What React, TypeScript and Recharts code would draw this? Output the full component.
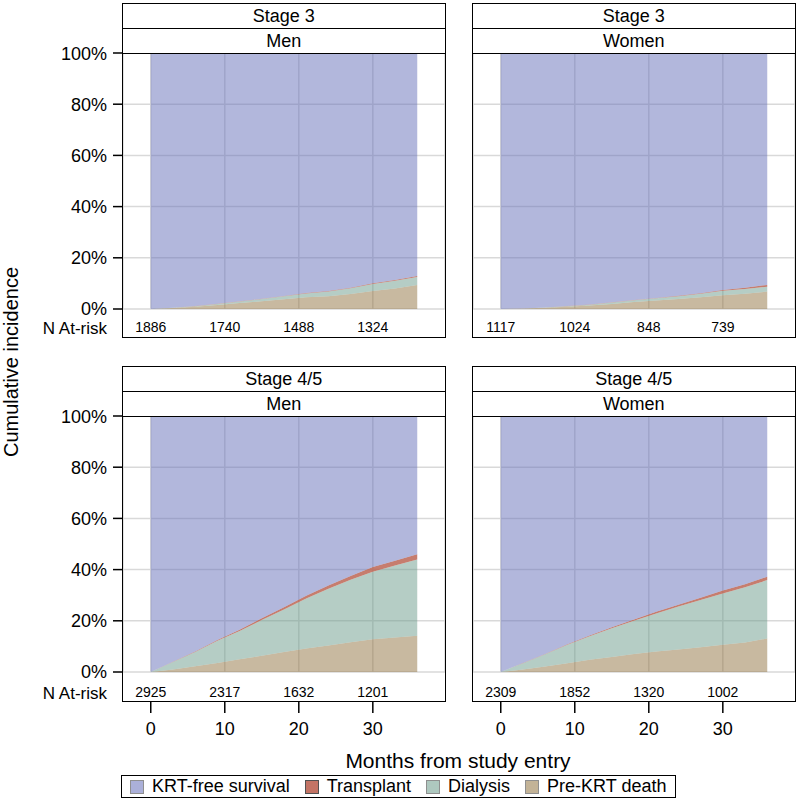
import { Area, AreaChart, CartesianGrid, XAxis, YAxis } from "recharts";

// months since study entry at which the curves were read
const months = [0, 3, 6, 9, 12, 15, 18, 21, 24, 27, 30, 33, 36];

// cumulative incidence (%) per competing event
const s3MenDeath = [0, 0.4, 0.9, 1.6, 2.3, 3.0, 3.8, 4.6, 5.0, 5.9, 7.0, 8.0, 9.4];
const s3MenDialysis = [0, 0.1, 0.2, 0.4, 0.6, 0.9, 1.2, 1.5, 1.8, 2.2, 2.8, 3.0, 3.1];
const s3MenTransplant = [0, 0, 0.05, 0.05, 0.1, 0.1, 0.1, 0.15, 0.2, 0.2, 0.3, 0.35, 0.4];

const s3WomenDeath = [0, 0.2, 0.5, 0.9, 1.4, 2.0, 2.7, 3.3, 3.9, 4.6, 5.4, 6.0, 6.8];
const s3WomenDialysis = [0, 0, 0.1, 0.2, 0.3, 0.5, 0.7, 0.9, 1.1, 1.4, 1.7, 1.8, 1.9];
const s3WomenTransplant = [0, 0, 0, 0.05, 0.05, 0.1, 0.1, 0.1, 0.15, 0.2, 0.3, 0.5, 0.7];

const s45MenDeath = [0, 1.0, 2.2, 3.5, 5.0, 6.3, 7.8, 9.2, 10.4, 11.6, 12.8, 13.5, 14.2];
const s45MenDialysis = [0, 2.95, 5.6, 8.7, 11.0, 14.0, 16.6, 19.5, 22.1, 24.4, 26.4, 28.1, 29.7];
const s45MenTransplant = [0, 0.05, 0.2, 0.3, 0.5, 0.7, 0.9, 1.1, 1.3, 1.5, 1.8, 1.9, 2.1];

const s45WomenDeath = [0, 1.0, 2.1, 3.4, 4.8, 5.9, 7.0, 8.0, 8.8, 9.7, 10.6, 11.5, 13.1];
const s45WomenDialysis = [0, 2.45, 4.8, 7.2, 9.2, 11.2, 13.0, 14.9, 16.8, 18.4, 20.1, 21.6, 22.8];
const s45WomenTransplant = [0, 0.05, 0.1, 0.2, 0.3, 0.4, 0.5, 0.6, 0.7, 0.9, 1.1, 1.2, 1.3];

// number at risk table
const riskMonths = [0, 10, 20, 30];
const s3MenAtRisk = [1886, 1740, 1488, 1324];
const s3WomenAtRisk = [1117, 1024, 848, 739];
const s45MenAtRisk = [2925, 2317, 1632, 1201];
const s45WomenAtRisk = [2309, 1852, 1320, 1002];

const yTicks = [0, 20, 40, 60, 80, 100];
const xDomain = [-3.75, 39.75];

const series = [
  { key: "death", name: "Pre-KRT death", color: "#927442", opacity: 0.5 },
  { key: "dialysis", name: "Dialysis", color: "#6b9b8b", opacity: 0.5 },
  { key: "transplant", name: "Transplant", color: "#b85c4a", opacity: 0.8 },
  { key: "free", name: "KRT-free survival", color: "#6670b9", opacity: 0.5 },
];
const legendOrder = ["free", "transplant", "dialysis", "death"];

const FONT = "'Liberation Sans', Arial, sans-serif";
const PLOT_W = 322;
const PLOT_H = 256;
const border = "1.5px solid #000";

function buildRows(death: number[], dialysis: number[], transplant: number[]) {
  return months.map((m, i) => ({
    month: m,
    death: death[i],
    dialysis: dialysis[i],
    transplant: transplant[i],
    free: 100 - death[i] - dialysis[i] - transplant[i],
  }));
}

// at-risk count under the plot, plus month tick + label on the bottom row
function RiskTick({ x, y, payload, atRisk, bottom }: any) {
  const i = riskMonths.indexOf(payload.value);
  return (
    <g>
      <text
        x={x}
        y={y + (bottom ? 20 : 18)}
        textAnchor="middle"
        dominantBaseline="central"
        fontSize={14}
        fill="#000"
      >
        {atRisk[i]}
      </text>
      {bottom && (
        <>
          <line x1={x} x2={x} y1={y + 30} y2={y + 41} stroke="#000" strokeWidth={1.5} />
          <text
            x={x}
            y={y + 57}
            textAnchor="middle"
            dominantBaseline="central"
            fontSize={18}
            fill="#000"
          >
            {payload.value}
          </text>
        </>
      )}
    </g>
  );
}

type PanelProps = {
  stage: string;
  sex: string;
  rows: ReturnType<typeof buildRows>;
  atRisk: number[];
  left: number; // x of plot left edge
  top: number; // y of 100% line
  first: boolean;
  bottom: boolean;
};

function Panel({ stage, sex, rows, atRisk, left, top, first, bottom }: PanelProps) {
  const mTop = 10;
  const riskH = bottom ? 30 : 29;
  const axisH = bottom ? 75 : riskH;
  const chartLeft = first ? 0 : left - 123;
  const height = mTop + PLOT_H + axisH + 1;
  const strip = {
    position: "absolute" as const,
    left: left - 1,
    width: PLOT_W + 1.5,
    height: 25.5,
    border,
    boxSizing: "border-box" as const,
    background: "#fff",
    display: "flex",
    alignItems: "center",
    justifyContent: "center",
    fontSize: 18,
    lineHeight: 1,
  };
  return (
    <>
      <div style={{ position: "absolute", left: chartLeft, top: top - mTop }}>
        <AreaChart
          width={123 + PLOT_W + 5}
          height={height}
          data={rows}
          margin={{ top: mTop, right: 5, bottom: 1, left: first ? 0 : 123 }}
        >
          <CartesianGrid stroke="#d9d9d9" strokeWidth={1.5} />
          <XAxis
            dataKey="month"
            type="number"
            domain={xDomain}
            ticks={riskMonths}
            height={axisH}
            axisLine={false}
            tickLine={false}
            tickSize={0}
            tickMargin={0}
            interval={0}
            tick={(p: any) => <RiskTick {...p} atRisk={atRisk} bottom={bottom} />}
          />
          <YAxis
            domain={[0, 100]}
            ticks={yTicks}
            hide={!first}
            width={123}
            axisLine={false}
            tickSize={10}
            tickMargin={6}
            tickLine={{ stroke: "#000", strokeWidth: 1.5 }}
            tick={{ fill: "#000", fontSize: 18 }}
            tickFormatter={(v: number) => `${v}%`}
          />
          {series.map((s) => (
            <Area
              key={s.key}
              dataKey={s.key}
              name={s.name}
              stackId="cif"
              type="linear"
              stroke="none"
              fill={s.color}
              fillOpacity={s.opacity}
              isAnimationActive={false}
              dot={false}
              activeDot={false}
            />
          ))}
        </AreaChart>
      </div>
      <div style={{ ...strip, top: top - 50 }}>{stage}</div>
      <div style={{ ...strip, top: top - 25 }}>{sex}</div>
      <div
        style={{
          position: "absolute",
          left: left - 1,
          top: top - 0.5,
          width: PLOT_W + 1.5,
          height: PLOT_H + riskH,
          border,
          boxSizing: "border-box",
          pointerEvents: "none",
        }}
      />
      {first && (
        <div
          style={{
            position: "absolute",
            right: 797 - 107,
            top: top + PLOT_H + (bottom ? 21 : 19),
            transform: "translateY(-50%)",
            fontSize: 17,
            lineHeight: 1,
            whiteSpace: "nowrap",
          }}
        >
          N At-risk
        </div>
      )}
    </>
  );
}

export default function App() {
  const byKey = Object.fromEntries(series.map((s) => [s.key, s]));
  return (
    <div
      style={{
        position: "absolute",
        left: 0,
        top: 0,
        width: 797,
        height: 801,
        background: "#fff",
        fontFamily: FONT,
        color: "#000",
      }}
    >
      <Panel
        stage="Stage 3"
        sex="Men"
        rows={buildRows(s3MenDeath, s3MenDialysis, s3MenTransplant)}
        atRisk={s3MenAtRisk}
        left={123}
        top={53}
        first
        bottom={false}
      />
      <Panel
        stage="Stage 3"
        sex="Women"
        rows={buildRows(s3WomenDeath, s3WomenDialysis, s3WomenTransplant)}
        atRisk={s3WomenAtRisk}
        left={473}
        top={53}
        first={false}
        bottom={false}
      />
      <Panel
        stage="Stage 4/5"
        sex="Men"
        rows={buildRows(s45MenDeath, s45MenDialysis, s45MenTransplant)}
        atRisk={s45MenAtRisk}
        left={123}
        top={416}
        first
        bottom
      />
      <Panel
        stage="Stage 4/5"
        sex="Women"
        rows={buildRows(s45WomenDeath, s45WomenDialysis, s45WomenTransplant)}
        atRisk={s45WomenAtRisk}
        left={473}
        top={416}
        first={false}
        bottom
      />

      <div
        style={{
          position: "absolute",
          left: 11,
          top: 362,
          transform: "translate(-50%, -50%) rotate(-90deg)",
          fontSize: 20,
          whiteSpace: "nowrap",
        }}
      >
        Cumulative incidence
      </div>
      <div
        style={{
          position: "absolute",
          left: 458,
          top: 761,
          transform: "translate(-50%, -50%)",
          fontSize: 21,
          whiteSpace: "nowrap",
        }}
      >
        Months from study entry
      </div>

      <div
        style={{
          position: "absolute",
          left: 121,
          top: 775,
          height: 23,
          padding: "0 8px",
          border,
          boxSizing: "border-box",
          display: "flex",
          alignItems: "center",
          fontSize: 18,
          whiteSpace: "nowrap",
        }}
      >
        {legendOrder.map((k, i) => (
          <span
            key={k}
            style={{
              display: "flex",
              alignItems: "center",
              marginRight: i === legendOrder.length - 1 ? 0 : 15,
            }}
          >
            <span
              style={{
                display: "inline-block",
                width: 12,
                height: 12,
                marginRight: 8,
                border: "1px solid #333",
                background: byKey[k].color,
                filter: `opacity(${byKey[k].opacity + 0.05})`,
              }}
            />
            {byKey[k].name}
          </span>
        ))}
      </div>
    </div>
  );
}
